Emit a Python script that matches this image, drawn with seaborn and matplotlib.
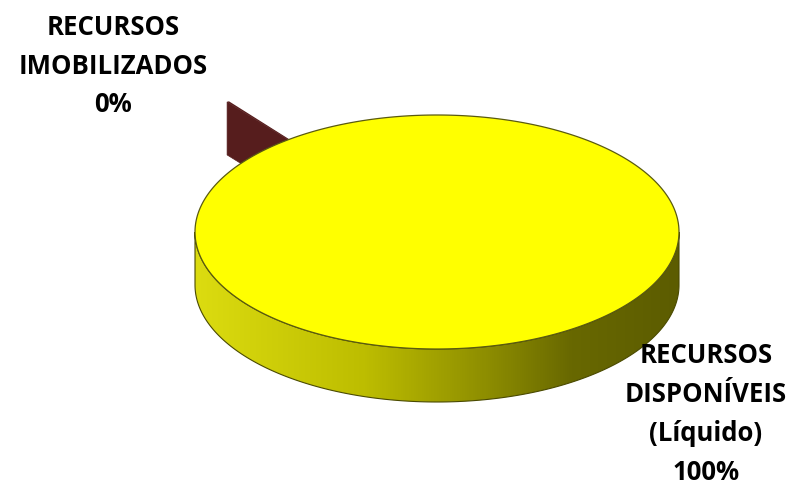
import numpy as np
import matplotlib
matplotlib.use("Agg")
import matplotlib.pyplot as plt
from matplotlib.patches import Polygon
from matplotlib.colors import LinearSegmentedColormap
import seaborn as sns

# ---- data ----
categories = ["RECURSOS\nIMOBILIZADOS", "RECURSOS\nDISPONÍVEIS\n(Líquido)"]
values = [0.15, 99.85]
colors = ["#561d1d", "#ffff00"]
explode = [0.41, 0.0]

sns.set_theme(style="white")
plt.rcParams['font.family'] = ['Open Sans', 'DejaVu Sans']

fig = plt.figure(figsize=(7.98, 4.86), dpi=100)
ax = fig.add_axes([0, 0, 1, 1])

# layout of the 3D pie (pixels)
cx, cy, a, b, depth = 437, 232, 242, 117, 53
start = 127.5

def arc(t1, t2, r=1.0, off=(0.0, 0.0), dz=0.0, n=200):
    t = np.radians(np.linspace(t1, t2, n))
    return np.column_stack([cx + off[0] + a * r * np.cos(t),
                            cy + off[1] - b * r * np.sin(t) + dz])

total = sum(values)
angles = []
th = start
for v in values:
    w = 360.0 * v / total
    angles.append((th, th + w))
    th += w

side_cmap = LinearSegmentedColormap.from_list(
    "side", [(0, "#dcdc10"), (0.35, "#bdbd00"), (0.6, "#8e8e00"),
             (0.78, "#686800"), (1.0, "#5c5c00")])

# ---- dark (exploded) slice, drawn first: it is behind ----
t1, t2 = angles[0]
mid = np.radians((t1 + t2) / 2)
off = (a * explode[0] * np.cos(mid), -b * explode[0] * np.sin(mid))
c_top = np.array([cx + off[0], cy + off[1]])
outer2 = arc(t2, t2, off=off, n=1)[0]
face = np.array([c_top, outer2, outer2 + [0, depth], c_top + [0, depth]])
ax.add_patch(Polygon(face, closed=True, facecolor=colors[0], edgecolor=colors[0],
                     lw=0.5, zorder=1))
top_dark = np.vstack([c_top, arc(t1, t2, off=off, n=20)])
ax.add_patch(Polygon(top_dark, closed=True, facecolor=colors[0], edgecolor="none", zorder=1.1))

# ---- big slice ----
t1, t2 = angles[1]
s1, s2 = 180.0, 360.0
top_arc = arc(s1, s2)
bot_arc = arc(s2, s1, dz=depth)
side_poly = Polygon(np.vstack([top_arc, bot_arc]), closed=True,
                    facecolor="none", edgecolor="#4a4a00", lw=0.8, zorder=2.5)
ax.add_patch(side_poly)
grad = np.linspace(0, 1, 512).reshape(1, -1)
im = ax.imshow(grad, cmap=side_cmap, aspect="auto",
               extent=[cx - a, cx + a, cy + b + depth + 5, cy - 5], zorder=2)
im.set_clip_path(side_poly)

ax.add_patch(Polygon(arc(t1, t2, n=720), closed=True, facecolor=colors[1],
                     edgecolor="#5a5a10", lw=0.9, zorder=3))

# ---- labels ----
pcts = [f"{100 * v / total:.0f}%" for v in values]
ax.text(113, 66, categories[0] + "\n" + pcts[0], ha="center", va="center",
        multialignment="center", fontsize=18.5, fontweight="bold",
        linespacing=1.56, color="black", zorder=5)
ax.text(706, 414, categories[1] + "\n" + pcts[1], ha="center", va="center",
        multialignment="center", fontsize=18.5, fontweight="bold",
        linespacing=1.56, color="black", zorder=5)

ax.set_xlim(0, 798)
ax.set_ylim(486, 0)
ax.axis('off')
fig.savefig("out.png", dpi=100, facecolor="white")
